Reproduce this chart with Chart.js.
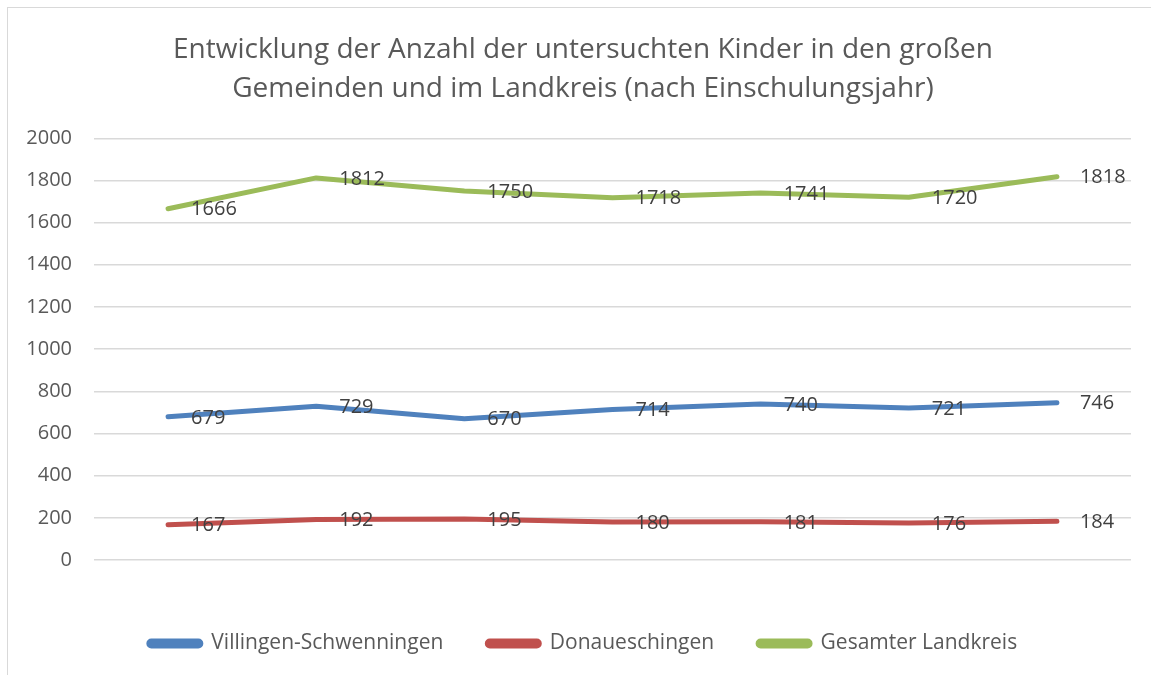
<!DOCTYPE html>
<html>
<head>
<meta charset="utf-8">
<script src="https://cdn.jsdelivr.net/npm/chart.js@4/dist/chart.umd.min.js"></script>
<style>
  html, body { margin: 0; padding: 0; background: #fff; overflow: hidden; }
  #frame {
    position: absolute; left: 7px; top: 7px; width: 1160px; height: 690px;
    border: 1.5px solid #d9d9d9; box-sizing: border-box;
  }
  #wrap { position: absolute; left: 0; top: 0; width: 1151px; height: 675px; }
</style>
</head>
<body>
<div id="frame"></div>
<div id="wrap"><canvas id="chart"></canvas></div>
<script>
  const years = ['2013', '2014', '2015', '2016', '2017', '2018', '2019'];
  const villingen = [679, 729, 670, 714, 740, 721, 746];
  const donau = [167, 192, 195, 180, 181, 176, 184];
  const landkreis = [1666, 1812, 1750, 1718, 1741, 1720, 1818];
  const titleLines = [
    'Entwicklung der Anzahl der untersuchten Kinder in den großen',
    'Gemeinden und im Landkreis (nach Einschulungsjahr)',
  ];

  const FONT = '"Open Sans", "Noto Sans", sans-serif';
  const FRAME_LEFT = 35;

  // value labels to the right of each point, like the Excel "right" position
  const valueLabels = {
    id: 'valueLabels',
    afterDatasetsDraw(chart) {
      const { ctx } = chart;
      ctx.save();
      ctx.font = `20px ${FONT}`;
      ctx.fillStyle = '#404040';
      ctx.textAlign = 'left';
      ctx.textBaseline = 'middle';
      chart.data.datasets.forEach((ds, i) => {
        const meta = chart.getDatasetMeta(i);
        meta.data.forEach((pt, j) => {
          ctx.fillText(String(ds.data[j]), pt.x + 23, pt.y + 1);
        });
      });
      ctx.restore();
    },
  };

  // Excel centres title and legend on the whole frame, not on the canvas edge
  const centerOnFrame = {
    id: 'centerOnFrame',
    afterLayout(chart) {
      [chart.titleBlock, chart.legend].forEach((box) => {
        if (!box) return;
        box.left = FRAME_LEFT;
        box.width = box.right - box.left;
      });
    },
  };

  function line(label, data, color) {
    return {
      label,
      data,
      borderColor: color,
      backgroundColor: color,
      borderWidth: 5,
      borderCapStyle: 'round',
      borderJoinStyle: 'round',
      pointRadius: 0,
      tension: 0,
      fill: false,
    };
  }

  new Chart(document.getElementById('chart'), {
    type: 'line',
    data: {
      labels: years,
      datasets: [
        line('Villingen-Schwenningen', villingen, '#4f81bd'),
        line('Donaueschingen', donau, '#c0504d'),
        line('Gesamter Landkreis', landkreis, '#9bbb59'),
      ],
    },
    plugins: [valueLabels, centerOnFrame],
    options: {
      responsive: true,
      maintainAspectRatio: false,
      animation: false,
      layout: { padding: { left: 0, right: 20, top: 21, bottom: 11 } },
      plugins: {
        title: {
          display: true,
          text: titleLines,
          color: '#595959',
          font: { family: FONT, size: 28, weight: 'normal', lineHeight: 1.38 },
          padding: { top: 10, bottom: 30 },
        },
        legend: {
          position: 'bottom',
          labels: {
            color: '#595959',
            font: { family: FONT, size: 21 },
            boxWidth: 52,
            boxHeight: 5,
            useBorderRadius: true,
            borderRadius: 2.5,
            padding: 44,
          },
        },
        tooltip: { enabled: false },
      },
      scales: {
        x: {
          offset: true,
          grid: { display: false },
          border: { display: false },
          ticks: { color: '#595959', font: { family: FONT, size: 20 }, padding: 20 },
          afterFit(scale) { scale.height = 29; },
        },
        y: {
          min: 0,
          max: 2000,
          ticks: {
            stepSize: 200,
            color: '#595959',
            font: { family: FONT, size: 20 },
            padding: 22,
            callback: (value) => String(value),
          },
          grid: { color: '#d9d9d9', lineWidth: 1.5, drawTicks: false },
          border: { display: false },
          afterFit(scale) { scale.width = 94; },
        },
      },
    },
  });
</script>
</body>
</html>
